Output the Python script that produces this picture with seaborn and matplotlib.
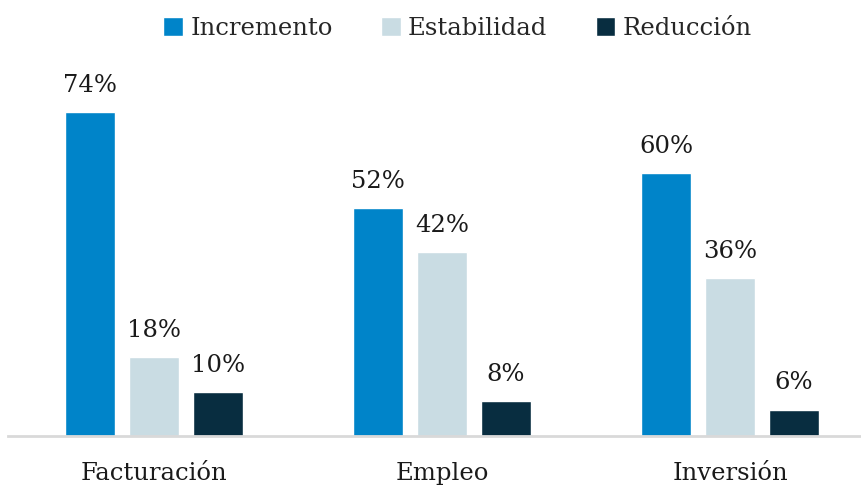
import seaborn as sns
import matplotlib.pyplot as plt
import pandas as pd

sns.set_theme(style="white")
plt.rcParams['font.family'] = ['DejaVu Serif Condensed', 'DejaVu Serif']

categorias = ['Facturación', 'Empleo', 'Inversión']
series = ['Incremento', 'Estabilidad', 'Reducción']
incremento = [74, 52, 60]
estabilidad = [18, 42, 36]
reduccion = [10, 8, 6]
colores = ['#0084C9', '#C9DCE3', '#082D40']

df = pd.DataFrame({
    'Categoria': categorias * 3,
    'Serie': [s for s in series for _ in categorias],
    'Valor': incremento + estabilidad + reduccion,
})

fig = plt.figure(figsize=(8.61, 4.86), dpi=100)
ax = fig.add_axes([8 / 861, 50 / 486, 853 / 861, 380 / 486])

sns.barplot(data=df, x='Categoria', y='Valor', hue='Serie', hue_order=series,
            palette=colores, width=0.667, gap=0.22, saturation=1, ax=ax)

for cont in ax.containers:
    ax.bar_label(cont, labels=[f'{v:.0f}%' for v in cont.datavalues],
                 padding=11, fontsize=17.5, color='#1a1a1a')

ax.set_xlim(-0.507, 2.455)
ax.set_ylim(0, 380 / 4.38)
ax.set_xlabel('')
ax.set_ylabel('')
ax.set_yticks([])
ax.tick_params(axis='x', labelsize=17.5, colors='#1a1a1a', pad=19, length=0)
for s in ['top', 'right', 'left']:
    ax.spines[s].set_visible(False)
ax.spines['bottom'].set_color('#d9d9d9')
ax.spines['bottom'].set_linewidth(2)

leg = ax.legend(loc='center', bbox_to_anchor=(0.527, 1.073), ncol=3,
                frameon=False, fontsize=17.5, handlelength=0.8, handleheight=0.8,
                handletextpad=0.3, columnspacing=2.0)

fig.savefig('out.png', dpi=100)
